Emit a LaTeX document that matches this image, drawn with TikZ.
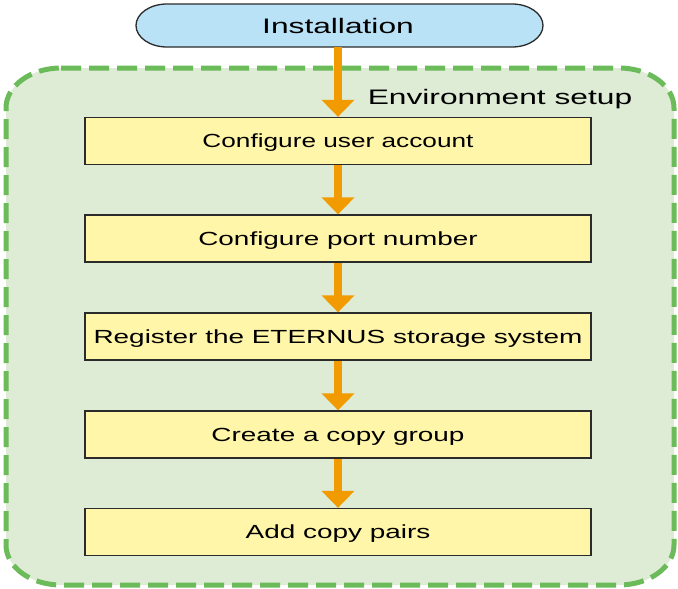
\documentclass[tikz,border=0pt]{standalone}
\usepackage{graphicx}
\usepackage{fontspec}
\setmainfont{Liberation Sans}
\usetikzlibrary{arrows.meta}
\definecolor{envfill}{HTML}{DEEBD5}
\definecolor{envline}{HTML}{6CBB5A}
\definecolor{boxfill}{HTML}{FFF6A9}
\definecolor{instfill}{HTML}{BAE2F6}
\definecolor{arrowc}{HTML}{F29B00}
\definecolor{edgec}{HTML}{2B2B2B}
\newcommand{\wtxt}[2]{\scalebox{#1}[1]{#2}}
\begin{document}
\begin{tikzpicture}[x=1pt,y=1pt,
  stepbox/.style={draw=edgec, line width=1.3pt, fill=boxfill, minimum width=506pt, minimum height=47pt, inner sep=0pt, text height=13.6pt, text depth=0pt, font=\fontsize{19}{19}\selectfont},
  bigtext/.style={inner sep=0pt, text height=15pt, text depth=0pt, font=\fontsize{21}{21}\selectfont},
  flow/.style={draw=arrowc, line width=8pt, -{Triangle[width=32pt,length=17pt]}},
  envframe/.style={fill=envfill, draw=envline, line width=5pt, dash pattern=on 20pt off 8pt},
  startshape/.style={fill=instfill, draw=edgec, line width=1.3pt}
]
\useasboundingbox (0,0) rectangle (678,-589);
% container
\path[envframe] (61,-68) -- (619,-68)
  arc[start angle=90, end angle=0, x radius=55, y radius=40] -- (674,-545)
  arc[start angle=0, end angle=-90, x radius=55, y radius=40] -- (61,-585)
  arc[start angle=270, end angle=180, x radius=55, y radius=40] -- (6,-108)
  arc[start angle=180, end angle=90, x radius=55, y radius=40] -- cycle;
\node[bigtext] (envlabel) at (500,-97) {\wtxt{1.51}{Environment setup}};
% start terminal
\path[startshape] (167,-4) -- (512,-4)
  arc[start angle=90, end angle=-90, x radius=31, y radius=21.5] -- (167,-47)
  arc[start angle=270, end angle=90, x radius=31, y radius=21.5] -- cycle;
\node[bigtext, minimum width=407pt, minimum height=43pt] (inst) at (338,-25.5) {\wtxt{1.51}{Installation}};
% steps
\node[stepbox] (b1) at (338,-141) {\wtxt{1.38}{Configure user account}};
\node[stepbox] (b2) at (338,-238.5) {\wtxt{1.47}{Configure port number}};
\node[stepbox] (b3) at (338,-336.5) {\wtxt{1.47}{Register the ETERNUS storage system}};
\node[stepbox] (b4) at (338,-434.5) {\wtxt{1.47}{Create a copy group}};
\node[stepbox] (b5) at (338,-532) {\wtxt{1.47}{Add copy pairs}};
% arrows
\draw[flow] (inst.south) -- (b1.north);
\draw[flow] (b1.south) -- (b2.north);
\draw[flow] (b2.south) -- (b3.north);
\draw[flow] (b3.south) -- (b4.north);
\draw[flow] (b4.south) -- (b5.north);
\end{tikzpicture}
\end{document}
